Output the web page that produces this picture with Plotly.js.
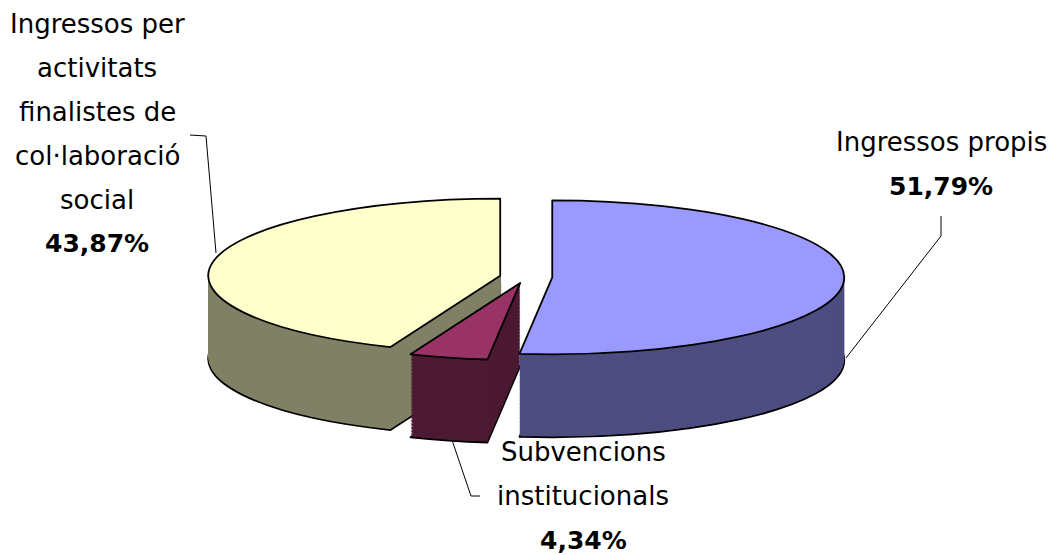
<!DOCTYPE html>
<html>
<head>
<meta charset="utf-8">
<script src="https://cdn.plot.ly/plotly-3.0.1.min.js"></script>
<style>
html,body{margin:0;padding:0;background:#fff;}
#chart{width:1057px;height:555px;}
.pielayer path{vector-effect:non-scaling-stroke;}
</style>
</head>
<body>
<div id="chart"></div>
<script>
// ---- Data ----
const categories = ["Ingressos propis", "Subvencions institucionals", "Ingressos per activitats finalistes de col·laboració social"];
const labelLines = [
  ["Ingressos propis"],
  ["Subvencions", "institucionals"],
  ["Ingressos per", "activitats", "finalistes de", "col·laboració", "social"]
];
const values = [51.79, 4.34, 43.87];
const topColors = ["#9999FF", "#993366", "#FFFFCC"];
const sideColors = ["#4D4D80", "#4D1A33", "#808066"];

// ---- Layout constants ----
const W = 1057, H = 555;
const FONT = "'DejaVu Sans', sans-serif";
const FONT_B = "'DejaVu Sans', sans-serif";
const fmt = v => v.toFixed(2).replace('.', ',') + '%';
const PULL = [0.09, 0.08, 0.09];

// 3-D look: target ellipse of the top face (pixels)
const ELL = {cx: 526, cy: 277, a: 292, b: 77, depth: 83};
const R_PRE = 150;                       // radius wanted before flattening
const boxFrac = (2 * R_PRE * (1 + Math.max(...PULL))) / H;
const sy = ELL.b / R_PRE;
const depthPre = ELL.depth / sy;         // depth in un-flattened pixels
const NSTEP = 60;

const traces = [];
const topDomain = [1 - boxFrac, 1];
for (let k = NSTEP; k >= 1; k--) {
  const off = (depthPre * k / NSTEP) / H;
  traces.push({
    type: 'pie', labels: categories, values: values, sort: false,
    direction: 'clockwise', rotation: 0, pull: PULL,
    marker: {colors: sideColors, line: {color: '#000', width: k === NSTEP ? 1.8 : 0}},
    textinfo: 'none', hoverinfo: 'skip', showlegend: false,
    domain: {x: [0, 1], y: [topDomain[0] - off, topDomain[1] - off]}
  });
}
traces.push({
  type: 'pie', labels: categories, values: values, sort: false,
  direction: 'clockwise', rotation: 0, pull: PULL,
  marker: {colors: topColors, line: {color: '#000', width: 1.8}},
  textinfo: 'none', hoverinfo: 'label+percent', showlegend: false,
  domain: {x: [0, 1], y: topDomain}
});

// ---- Labels ----
const blocks = [
  {cx: 941, y0: 142},
  {cx: 583, y0: 452},
  {cx: 97,  y0: 24}
];
const LINE = 44;
const annotations = [];
categories.forEach((c, i) => {
  const b = blocks[i];
  const lines = labelLines[i].concat([fmt(values[i])]);
  lines.forEach((t, k) => {
    const isPct = k === lines.length - 1;
    annotations.push({
      xref: 'paper', yref: 'paper', x: b.cx / W, y: 1 - (b.y0 + k * LINE) / H,
      xanchor: 'center', yanchor: 'middle', showarrow: false,
      text: isPct ? '<b>' + t + '</b>' : t,
      font: {family: isPct ? FONT_B : FONT, size: isPct ? 25 : 26, color: '#000'}
    });
  });
});
const P = (x, y) => `${x / W} ${1 - y / H}`;
const shapes = [
  {type: 'path', xref: 'paper', yref: 'paper', line: {color: '#000', width: 1},
   path: `M ${P(941, 216)} L ${P(941, 236)} L ${P(846, 358)}`},
  {type: 'path', xref: 'paper', yref: 'paper', line: {color: '#000', width: 1},
   path: `M ${P(480, 496)} L ${P(471, 496)} L ${P(452, 440)}`},
  {type: 'path', xref: 'paper', yref: 'paper', line: {color: '#000', width: 1},
   path: `M ${P(190, 135)} L ${P(206, 136)} L ${P(216, 253)}`}
];

Plotly.newPlot('chart', traces, {
  width: W, height: H,
  margin: {l: 0, r: 0, t: 0, b: 0},
  paper_bgcolor: '#fff', plot_bgcolor: '#fff',
  annotations: annotations, shapes: shapes, showlegend: false
}, {displayModeBar: false, staticPlot: true}).then(gd => {
  // flatten the pie into a tilted ellipse
  const cd0 = gd.calcdata[gd.calcdata.length - 1][0];
  const sx = ELL.a / cd0.r, syy = ELL.b / cd0.r;
  const tx = ELL.cx - sx * cd0.cx, ty = ELL.cy - syy * cd0.cy;
  const layer = gd.querySelector('.pielayer');
  layer.setAttribute('transform', `matrix(${sx},0,0,${syy},${tx},${ty})`);
});
</script>
</body>
</html>
